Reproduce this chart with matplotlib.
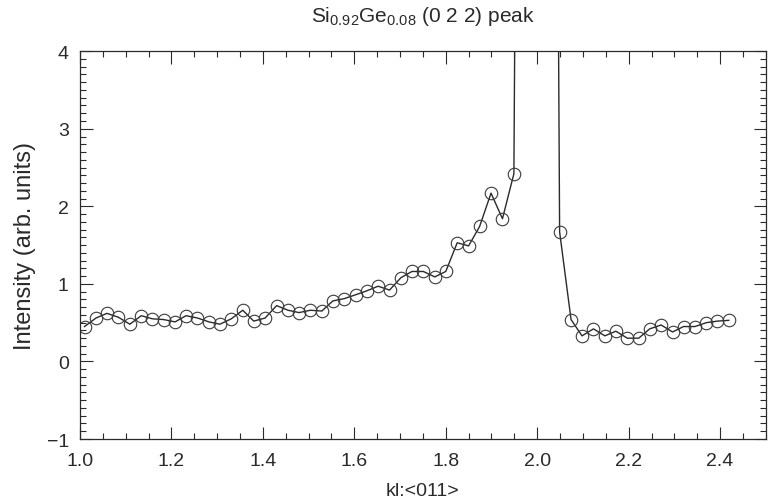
#!/usr/bin/env python3
"""
Si0.92Ge0.08 (0 2 2) peak - intensity along kl:<011>.
"""

import matplotlib
matplotlib.use("Agg")
import matplotlib.pyplot as plt
from matplotlib.ticker import MultipleLocator

# -----------------------------------------------------------------------------
# DATA
# -----------------------------------------------------------------------------
kl_left = [1.010, 1.035, 1.059, 1.084, 1.109, 1.134, 1.158, 1.183, 1.208,
           1.232, 1.257, 1.282, 1.306, 1.331, 1.356, 1.380, 1.405, 1.430,
           1.455, 1.479, 1.504, 1.529, 1.553, 1.578, 1.603, 1.627, 1.652,
           1.677, 1.702, 1.726, 1.751, 1.776, 1.800, 1.825, 1.850, 1.874,
           1.899, 1.924, 1.949]
int_left = [0.45, 0.56, 0.62, 0.57, 0.48, 0.59, 0.55, 0.54, 0.51, 0.59,
            0.56, 0.51, 0.48, 0.55, 0.66, 0.52, 0.56, 0.72, 0.66, 0.63,
            0.66, 0.65, 0.78, 0.81, 0.86, 0.91, 0.97, 0.92, 1.08, 1.16,
            1.16, 1.09, 1.16, 1.53, 1.49, 1.74, 2.17, 1.84, 2.42]

# points of the Bragg peak itself, far above the plotted range
kl_peak = [1.973, 1.998, 2.022]
int_peak = [25.0, 80.0, 30.0]

kl_right = [2.049, 2.074, 2.098, 2.123, 2.148, 2.172, 2.197, 2.222, 2.246,
            2.271, 2.296, 2.320, 2.345, 2.370, 2.394, 2.419]
int_right = [1.67, 0.54, 0.33, 0.42, 0.33, 0.39, 0.30, 0.30, 0.42, 0.47,
             0.38, 0.45, 0.45, 0.50, 0.52, 0.53]

TITLE = r"Si$_{0.92}$Ge$_{0.08}$ (0 2 2) peak"
XLABEL = "kl:<011>"
YLABEL = "Intensity (arb. units)"

# -----------------------------------------------------------------------------
plt.rcParams["font.family"] = ["Liberation Sans", "DejaVu Sans"]
plt.rcParams["mathtext.fontset"] = "custom"
plt.rcParams["mathtext.rm"] = "Liberation Sans"
plt.rcParams["mathtext.it"] = "Liberation Sans"

INK = "#2a2a2a"

kl = kl_left + kl_peak + kl_right
intensity = int_left + int_peak + int_right

fig = plt.figure(figsize=(7.72, 5.02), dpi=100)
ax = fig.add_axes([0.1036, 0.1235, 0.8884, 0.7725])

ax.plot(kl, intensity, color=INK, linewidth=1.0, marker="o",
        markersize=9, markerfacecolor="none", markeredgecolor="#3a3a3a",
        markeredgewidth=0.8, clip_on=True)

ax.set_xlim(1.0, 2.5)
ax.set_ylim(-1, 4)
ax.xaxis.set_major_locator(MultipleLocator(0.2))
ax.xaxis.set_minor_locator(MultipleLocator(0.05))
ax.yaxis.set_major_locator(MultipleLocator(1))
ax.yaxis.set_minor_locator(MultipleLocator(0.1))
ax.xaxis.set_major_formatter(plt.FormatStrFormatter("%.1f"))

ax.tick_params(which="both", direction="in", top=True, right=True,
               color=INK, labelcolor=INK, labelsize=14, width=0.8)
ax.tick_params(which="major", length=9)
ax.tick_params(which="minor", length=4)
ax.tick_params(axis="x", which="major", pad=9)
ax.tick_params(axis="y", which="major", pad=8)
for s in ax.spines.values():
    s.set_color(INK)
    s.set_linewidth(0.9)

ax.set_title(TITLE, fontsize=15, color=INK, pad=22)
ax.set_xlabel(XLABEL, fontsize=14, color=INK, labelpad=10)
ax.set_ylabel(YLABEL, fontsize=17, color=INK, labelpad=8)

fig.savefig("out.png", dpi=100)
